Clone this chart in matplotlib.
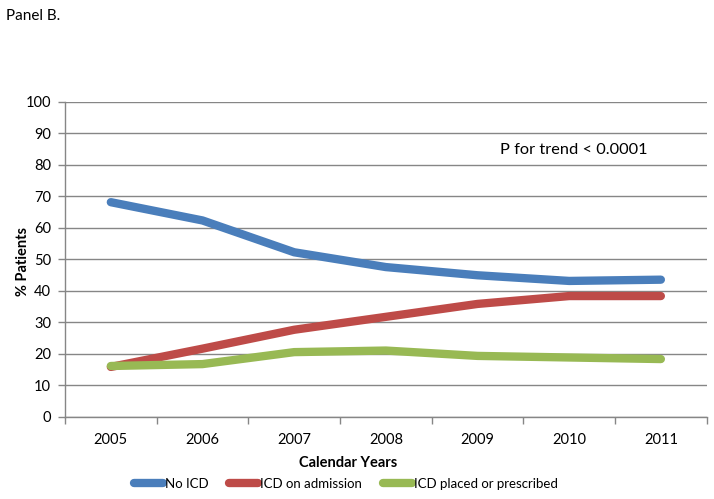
import matplotlib
matplotlib.use("Agg")
import matplotlib.pyplot as plt
from matplotlib.lines import Line2D
import numpy as np

years = ["2005", "2006", "2007", "2008", "2009", "2010", "2011"]
no_icd = [68.1, 62.3, 52.2, 47.5, 44.9, 43.1, 43.5]
icd_admission = [15.8, 21.6, 27.6, 31.7, 35.8, 38.3, 38.3]
icd_placed = [16.1, 16.7, 20.5, 21.0, 19.3, 18.8, 18.3]
series_names = ["No ICD", "ICD on admission", "ICD placed or prescribed"]
colors = ["#4A7EBB", "#BE4B48", "#98B954"]

plt.rcParams['font.family'] = ['Lato', 'DejaVu Sans']

fig = plt.figure(figsize=(7.14, 4.99), dpi=100)
ax = fig.add_axes([65/714, 1-416.7/499, (706.7-65)/714, (416.7-101.7)/499])

x = np.arange(len(years))
for vals, c, n in zip([no_icd, icd_admission, icd_placed], colors, series_names):
    ax.plot(x, vals, color=c, lw=6, solid_capstyle='round', solid_joinstyle='round', label=n, zorder=3)

ax.set_xlim(-0.5, len(years) - 0.5)
ax.set_ylim(0, 100)
ax.set_yticks(range(0, 101, 10))
ax.set_xticks(x)
ax.set_xticklabels(years)
ax.set_xticks(np.arange(-0.5, len(years), 1), minor=True)
ax.tick_params(axis='x', which='major', length=0, pad=12, labelsize=10.5, colors='#000000')
ax.tick_params(axis='x', which='minor', length=5, color='#868686', width=1)
ax.tick_params(axis='y', length=5, color='#868686', width=1, labelsize=10.5, pad=5)
ax.grid(axis='y', color='#868686', lw=1, zorder=0)
for s in ['top', 'right']:
    ax.spines[s].set_visible(False)
for s in ['left', 'bottom']:
    ax.spines[s].set_color('#868686')
    ax.spines[s].set_linewidth(1)

ax.set_xlabel("Calendar Years", fontsize=10.5, fontweight='bold')
ax.xaxis.set_label_coords((348 - 65) / 641.7, -(456 - 416.7) / 315)
ax.set_ylabel("% Patients", fontsize=10.5, fontweight='bold')
ax.yaxis.set_label_coords(-(65 - 30) / 641.7, (416.7 - 262) / 315)

ax.text(0.678, 0.847, "P for trend < 0.0001", transform=ax.transAxes, fontsize=11.8, ha='left', va='center')
fig.text(6/714, 1-16/499, "Panel B.", fontsize=11, ha='left', va='center')

handles = [Line2D([0], [0], color=c, lw=6, solid_capstyle='round') for c in colors]
fig.legend(handles, series_names, loc='center', bbox_to_anchor=(346/714, 1-484/499), ncol=3,
           frameon=False, fontsize=9.5, handlelength=2.2, handletextpad=0.15, columnspacing=1.6,
           borderpad=0.2)

fig.savefig("out.png", dpi=100)
